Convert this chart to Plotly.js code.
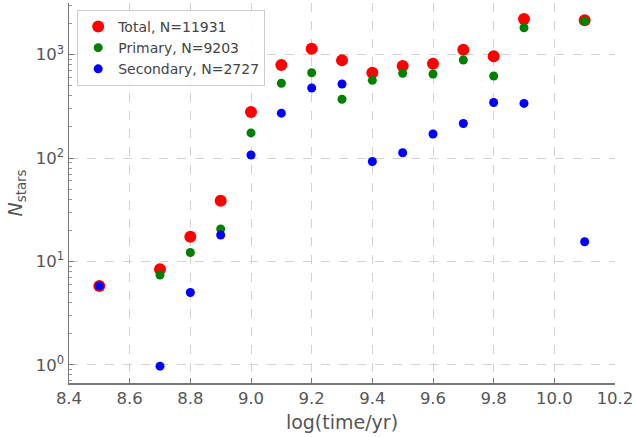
<!DOCTYPE html>
<html>
<head>
<meta charset="utf-8">
<script src="https://cdn.plot.ly/plotly-3.0.1.min.js"></script>
<style>html,body{margin:0;padding:0;background:#fff;}#chart{width:638px;height:437px;}</style>
</head>
<body>
<div id="chart"></div>
<script>
// log(time/yr) bins
const logTime = [8.5, 8.7, 8.8, 8.9, 9.0, 9.1, 9.2, 9.3, 9.4, 9.5, 9.6, 9.7, 9.8, 9.9, 10.1];
const totalStars = [5.8, 8.4, 17.3, 38.7, 279, 795, 1140, 881, 669, 776, 818, 1117, 964, 2218, 2148];
const primaryStars = [null, 7.4, 12.2, 20.6, 175, 529, 669, 371, 565, 660, 650, 888, 622, 1824, 2119];
const secondaryStars = [5.8, 0.97, 5.0, 18.0, 107, 272, 476, 520, 92.7, 112.5, 171, 216, 345, 338, 15.5];
const seriesNames = ["Total, N=11931", "Primary, N=9203", "Secondary, N=2727"];
const xTickVals = [8.4, 8.6, 8.8, 9.0, 9.2, 9.4, 9.6, 9.8, 10.0, 10.2];
const xTickText = ["8.4", "8.6", "8.8", "9.0", "9.2", "9.4", "9.6", "9.8", "10.0", "10.2"];
const yTickVals = [1, 10, 100, 1000];
const yTickText = ["10<sup>0</sup>", "10<sup>1</sup>", "10<sup>2</sup>", "10<sup>3</sup>"];
const yMinorTickVals = [0.7, 0.8, 0.9, 2, 3, 4, 5, 6, 7, 8, 9, 20, 30, 40, 50, 60, 70, 80, 90,
  200, 300, 400, 500, 600, 700, 800, 900, 2000, 3000];

const font = "DejaVu Sans, sans-serif";
const traces = [
  {x: logTime, y: totalStars, name: seriesNames[0], type: "scatter", mode: "markers",
   marker: {color: "#ff0000", size: 12}},
  {x: logTime, y: primaryStars, name: seriesNames[1], type: "scatter", mode: "markers",
   marker: {color: "#008000", size: 9}},
  {x: logTime, y: secondaryStars, name: seriesNames[2], type: "scatter", mode: "markers",
   marker: {color: "#0000ff", size: 9}}
];
const layout = {
  width: 638, height: 437,
  margin: {l: 69, r: 22.5, t: 3, b: 54, pad: 0},
  paper_bgcolor: "#fff", plot_bgcolor: "#fff",
  font: {family: font, color: "#555"},
  showlegend: true,
  legend: {x: 0.015, y: 0.982, xanchor: "left", yanchor: "top",
    bgcolor: "rgba(255,255,255,0.85)", bordercolor: "#cccccc", borderwidth: 1,
    font: {family: font, size: 14, color: "#444"}, itemsizing: "trace"},
  xaxis: {
    range: [8.4, 10.2], tickmode: "array", tickvals: xTickVals, ticktext: xTickText,
    showgrid: true, gridcolor: "#d3d3d3", griddash: "dash", gridwidth: 1,
    zeroline: false, showline: true, linecolor: "#777", linewidth: 1.5,
    ticks: "inside", ticklen: 5, tickcolor: "#777",
    tickfont: {family: font, size: 16.5, color: "#555"},
    title: {text: "log(time/yr)", font: {family: font, size: 19, color: "#555"}, standoff: 8}
  },
  yaxis: {
    type: "log", range: [-0.176, 3.5], tickmode: "array", tickvals: yTickVals, ticktext: yTickText,
    showgrid: true, gridcolor: "#d3d3d3", griddash: "dash", gridwidth: 1,
    zeroline: false, showline: true, linecolor: "#777", linewidth: 1.5,
    ticks: "inside", ticklen: 5, tickcolor: "#777",
    minor: {tickmode: "array", tickvals: yMinorTickVals, ticks: "inside", ticklen: 3, tickcolor: "#999", showgrid: false},
    tickfont: {family: font, size: 16.5, color: "#555"},
    title: {text: "<i>N</i><sub>stars</sub>", font: {family: font, size: 19, color: "#555"}, standoff: 8}
  }
};
Plotly.newPlot("chart", traces, layout, {staticPlot: true, displayModeBar: false});
</script>
</body>
</html>
